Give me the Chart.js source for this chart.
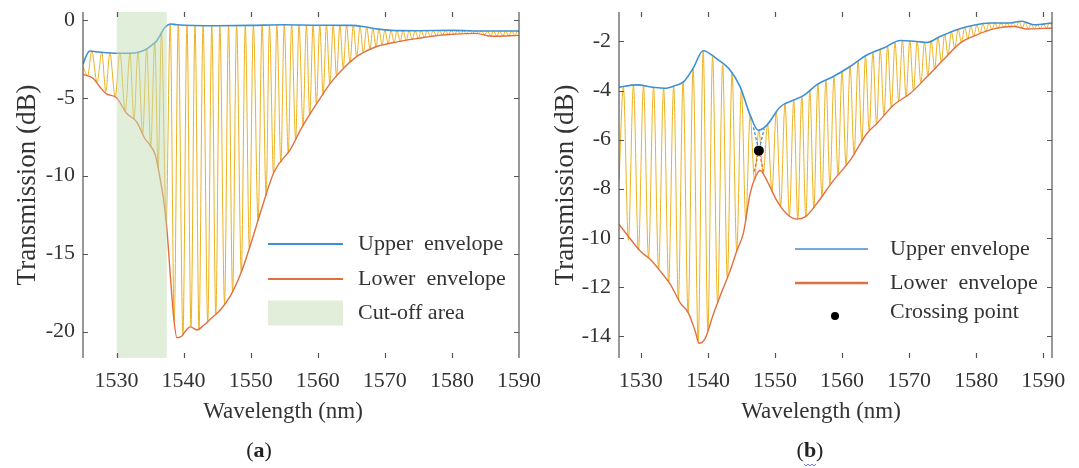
<!DOCTYPE html>
<html>
<head>
<meta charset="utf-8">
<script src="https://cdn.jsdelivr.net/npm/chart.js@4.4.1/dist/chart.umd.min.js"></script>
<style>
  html, body { margin: 0; padding: 0; background: #fff; }
  #wrap { position: relative; width: 1079px; height: 468px; }
  canvas { position: absolute; top: 0; }
  #chartA { left: 0; }
  #chartB { left: 540px; }
</style>
</head>
<body>
<div id="wrap">
  <canvas id="chartA" width="540" height="468"></canvas>
  <canvas id="chartB" width="539" height="468"></canvas>
</div>
<script>
// ---------- panel (a) ----------
const xTicksA = [1530, 1540, 1550, 1560, 1570, 1580, 1590];
const yTicksA = [0, -5, -10, -15, -20];
const cutoffA = [1530, 1537.5];

const wlUpperA = [1525, 1525.5, 1526, 1527, 1528, 1530, 1532, 1533.5, 1534.5, 1535.5, 1536, 1536.5, 1537,
  1537.5, 1538, 1539, 1545, 1550, 1555, 1560, 1565, 1567, 1569, 1571, 1575, 1580, 1585, 1590];
const upperA = [-2.85, -2.3, -2.0, -2.05, -2.1, -2.15, -2.15, -2.05, -1.87, -1.55, -1.34, -1.0, -0.6,
  -0.38, -0.27, -0.32, -0.38, -0.36, -0.32, -0.35, -0.36, -0.45, -0.6, -0.68, -0.7, -0.68, -0.72, -0.72];

const wlLowerA = [1525, 1526.5, 1527.5, 1528.5, 1530, 1531.5, 1533, 1534.2, 1535, 1535.8, 1536.5, 1537, 1537.5,
  1538, 1538.5, 1539, 1539.7, 1540.5, 1541, 1542, 1543, 1544, 1545.5, 1547, 1548.5, 1550, 1551.5, 1553.5,
  1556, 1557.5, 1560, 1562, 1564, 1566, 1568.5, 1572, 1575, 1578.5, 1583.5, 1586, 1590];
const lowerA = [-3.5, -3.75, -4.3, -4.75, -5.0, -6.0, -6.55, -7.6, -8.05, -8.7, -10.2, -11.5, -13.4,
  -16.3, -19.0, -20.4, -20.3, -19.85, -19.7, -19.9, -19.6, -19.2, -18.6, -17.7, -16.3, -14.4, -12.3, -9.75,
  -8.26, -7.0, -5.27, -4.0, -3.04, -2.3, -1.76, -1.4, -1.19, -0.98, -0.87, -1.06, -1.0];

// fringe turning points (dip, peak, dip, peak ...)
const wlFringeA = [1525.0,
  1525.7, 1526.3, 1527.1, 1527.8, 1528.4, 1529.0, 1529.8, 1530.5, 1531.3, 1532.0,
  1532.6, 1533.2, 1533.9, 1534.5, 1535.1, 1535.7, 1536.2, 1536.7, 1537.4, 1538.0,
  1538.6, 1539.2, 1539.9, 1540.5, 1541.1, 1541.7, 1542.3, 1542.9, 1543.6, 1544.2,
  1544.8, 1545.4, 1546.1, 1546.7, 1547.3, 1547.9, 1548.6, 1549.2, 1549.8, 1550.4,
  1551.1, 1551.7, 1552.3, 1552.8, 1553.4, 1553.9, 1554.5, 1555.0, 1555.6, 1556.1,
  1556.7, 1557.2, 1557.8, 1558.3, 1558.8, 1559.3, 1559.8, 1560.3, 1560.8, 1561.3,
  1561.8, 1562.3, 1562.8, 1563.3, 1563.8, 1564.3, 1564.8, 1565.3, 1565.8, 1566.3,
  1566.8, 1567.3, 1567.8, 1568.2, 1568.7, 1569.1, 1569.6, 1570.0, 1570.5, 1570.9,
  1571.4, 1571.8, 1572.3, 1572.7, 1573.2, 1573.6, 1574.1, 1574.5, 1575.0, 1575.4,
  1575.9, 1576.3, 1576.8, 1577.2, 1577.7, 1578.1, 1578.6, 1579.0, 1579.5, 1579.9,
  1580.4, 1580.8, 1581.3, 1581.7, 1582.2, 1582.6, 1583.1, 1583.5, 1584.0, 1584.4,
  1584.9, 1585.3, 1585.8, 1586.2, 1586.7, 1587.1, 1587.6, 1588.0, 1588.5, 1588.9,
  1589.4, 1589.8, 1590.0];
const fringeA = [-3.0,
  -3.6, -2.0, -4.0, -2.1, -4.6, -2.12, -4.95, -2.15, -5.9, -2.15,
  -6.4, -2.07, -7.3, -1.87, -8.1, -1.45, -9.5, -0.85, -13.0, -0.27,
  -19.3, -0.32, -20.2, -0.34, -19.7, -0.35, -19.85, -0.36, -19.4, -0.37,
  -18.9, -0.38, -18.2, -0.37, -17.5, -0.37, -16.2, -0.36, -14.7, -0.36,
  -12.9, -0.35, -11.3, -0.34, -9.85, -0.33, -9.15, -0.32, -8.5, -0.32,
  -7.7, -0.33, -6.8, -0.34, -6.1, -0.34, -5.4, -0.35, -4.8, -0.35,
  -4.1, -0.35, -3.6, -0.35, -3.1, -0.35, -2.75, -0.37, -2.38, -0.42,
  -2.1, -0.48, -1.9, -0.54, -1.74, -0.6, -1.63, -0.65, -1.54, -0.68,
  -1.45, -0.7, -1.38, -0.7, -1.31, -0.7, -1.25, -0.7, -1.19, -0.7,
  -1.13, -0.69, -1.08, -0.69, -1.03, -0.68, -0.98, -0.68, -0.96, -0.68,
  -0.94, -0.68, -0.92, -0.69, -0.9, -0.7, -0.88, -0.7, -0.88, -0.71,
  -0.95, -0.72, -1.04, -0.72, -1.06, -0.72, -1.04, -0.72, -1.02, -0.72,
  -1.0, -0.72, -0.8];

// ---------- panel (b) ----------
const xTicksB = [1530, 1540, 1550, 1560, 1570, 1580, 1590];
const yTicksB = [-2, -4, -6, -8, -10, -12, -14];
const crossingB = [1547.6, -6.45];

const wlUpperB = [1526.75, 1529.4, 1531.9, 1533.6, 1535.1, 1536.4, 1537.8, 1539.3, 1541.3, 1543.3, 1544.8,
  1546.3, 1547.5, 1548.8, 1550.8, 1552.8, 1554.3, 1556.2, 1558.7, 1561.2, 1563.7, 1566.2, 1568.7, 1571.2,
  1572.7, 1574.6, 1577.1, 1579.6, 1582.1, 1584.6, 1586.8, 1588.6, 1591.3];
const upperB = [-3.87, -3.77, -3.87, -3.91, -3.8, -3.64, -3.09, -2.38, -2.7, -3.16, -3.84,
  -5.0, -5.62, -5.41, -4.66, -4.39, -4.2, -3.77, -3.43, -3.02, -2.55, -2.27, -1.96, -2.0,
  -2.04, -1.8, -1.52, -1.34, -1.25, -1.25, -1.18, -1.32, -1.25];

const wlLowerB = [1526.75, 1528.3, 1529.9, 1531.4, 1532.9, 1534.4, 1535.9, 1537.1, 1538.1, 1538.7, 1539.6,
  1540.8, 1542.1, 1543.3, 1544.3, 1545.3, 1546.3, 1547.3, 1547.8, 1548.8, 1550.3, 1551.8, 1553.3, 1554.5,
  1556.2, 1558.7, 1561.2, 1563.7, 1565.2, 1567.7, 1570.2, 1572.7, 1575.1, 1577.6, 1580.1, 1582.6, 1585.6,
  1587.6, 1591.3];
const lowerB = [-9.45, -10.0, -10.54, -10.88, -11.36, -11.9, -12.66, -13.07, -13.8, -14.3, -14.1,
  -13.13, -12.18, -11.36, -10.54, -9.8, -8.2, -7.4, -7.26, -7.67, -8.5, -9.04, -9.24, -9.15,
  -8.62, -7.67, -6.85, -5.75, -5.34, -4.59, -4.11, -3.43, -2.75, -2.07, -1.73, -1.49, -1.39,
  -1.49, -1.45];

// dashed continuations of the envelopes around the crossing point
const wlDashUpperB = [1546.8, 1547.6, 1548.4];
const dashUpperB = [-5.5, -6.45, -5.55];
const wlDashLowerB = [1546.9, 1547.6, 1548.3];
const dashLowerB = [-7.3, -6.45, -7.3];

// fringe turning points (peak, dip, peak, dip ...)
const wlFringeB = [1526.75,
  1527.4, 1528.15, 1528.9, 1529.65, 1530.4, 1531.15, 1531.9, 1532.65, 1533.4, 1534.15,
  1534.9, 1535.6, 1536.3, 1537.05, 1537.8, 1538.55, 1539.3, 1540.0, 1540.7, 1541.45,
  1542.2, 1542.9, 1543.6, 1544.3, 1545.0, 1545.65, 1546.3, 1546.95, 1547.6, 1548.25,
  1548.9, 1549.55, 1550.2, 1550.85, 1551.5, 1552.15, 1552.8, 1553.4, 1554.0, 1554.6,
  1555.2, 1555.8, 1556.4, 1557.0, 1557.6, 1558.2, 1558.8, 1559.4, 1560.0, 1560.6,
  1561.2, 1561.8, 1562.4, 1562.95, 1563.5, 1564.05, 1564.6, 1565.15, 1565.7, 1566.25,
  1566.8, 1567.35, 1567.9, 1568.45, 1569.0, 1569.55, 1570.1, 1570.65, 1571.2, 1571.75,
  1572.3, 1572.8, 1573.3, 1573.8, 1574.3, 1574.8, 1575.3, 1575.8, 1576.3, 1576.8,
  1577.3, 1577.8, 1578.3, 1578.75, 1579.2, 1579.65, 1580.1, 1580.55, 1581.0, 1581.45,
  1581.9, 1582.35, 1582.8, 1583.25, 1583.7, 1584.15, 1584.6, 1585.05, 1585.5, 1585.95,
  1586.4, 1586.85, 1587.3, 1587.75, 1588.2, 1588.65, 1589.1, 1589.55, 1590.0, 1590.45,
  1590.9, 1591.3];
const fringeB = [-7.7,
  -3.85, -10.1, -3.78, -10.5, -3.8, -10.82, -3.87, -11.28, -3.9, -11.8,
  -3.82, -12.5, -3.65, -13.05, -3.09, -14.2, -2.4, -13.8, -2.62, -12.65,
  -2.95, -11.65, -3.3, -10.54, -3.95, -9.3, -5.0, -7.65, -5.62, -7.4,
  -5.38, -8.1, -4.85, -8.7, -4.52, -9.1, -4.39, -9.24, -4.22, -9.15,
  -4.0, -8.8, -3.74, -8.3, -3.57, -7.85, -3.42, -7.43, -3.22, -7.05,
  -3.02, -6.6, -2.8, -6.08, -2.6, -5.65, -2.45, -5.35, -2.32, -5.02,
  -2.2, -4.69, -2.05, -4.44, -1.96, -4.25, -1.97, -3.99, -2.0, -3.69,
  -2.03, -3.4, -1.95, -3.12, -1.83, -2.83, -1.7, -2.55, -1.6, -2.29,
  -1.5, -2.03, -1.43, -1.9, -1.36, -1.78, -1.32, -1.68, -1.29, -1.6,
  -1.26, -1.51, -1.25, -1.46, -1.25, -1.42, -1.25, -1.4, -1.22, -1.4,
  -1.19, -1.45, -1.22, -1.49, -1.3, -1.48, -1.3, -1.47, -1.27, -1.46,
  -1.25, -1.35];

// ---------- styling ----------
const FONT = '"Liberation Serif", "Times New Roman", serif';
const TEXT = '#333';
const BLUE = '#3E90D4';
const ORANGE = '#E2703F';
const YELLOW = '#EDB120';
const GREEN = '#E2EED9';

function series(wl, vals, color, width, extra) {
  return Object.assign({
    data: wl.map((x, i) => ({ x, y: vals[i] })),
    showLine: true,
    borderColor: color,
    borderWidth: width,
    pointRadius: 0,
    fill: false,
    cubicInterpolationMode: 'monotone'
  }, extra || {});
}

// axis frame with inward ticks, x title, legend and panel label
function decor(cfg) {
  return {
    id: 'decor',
    afterDraw(chart) {
      const { ctx, chartArea: ca, scales: { x, y } } = chart;
      ctx.save();
      ctx.strokeStyle = '#555';
      ctx.lineWidth = 1.2;
      ctx.beginPath();
      ctx.moveTo(ca.left, ca.top); ctx.lineTo(ca.left, ca.bottom);
      ctx.moveTo(ca.right, ca.top); ctx.lineTo(ca.right, ca.bottom);
      x.ticks.forEach(t => {
        const px = Math.round(x.getPixelForValue(t.value)) + 0.5;
        if (px > ca.right - 2) return;
        ctx.moveTo(px, ca.bottom); ctx.lineTo(px, ca.bottom - 5);
        ctx.moveTo(px, ca.top); ctx.lineTo(px, ca.top + 5);
      });
      y.ticks.forEach(t => {
        const py = Math.round(y.getPixelForValue(t.value)) + 0.5;
        ctx.moveTo(ca.left, py); ctx.lineTo(ca.left + 5, py);
        ctx.moveTo(ca.right, py); ctx.lineTo(ca.right - 5, py);
      });
      ctx.stroke();

      ctx.fillStyle = TEXT;
      ctx.textBaseline = 'middle';
      ctx.textAlign = 'center';
      ctx.font = `23px ${FONT}`;
      ctx.fillText('Wavelength (nm)', cfg.xTitleX, 412);

      // legend
      const lg = cfg.legend;
      lg.items.forEach(it => {
        if (it.kind === 'line') {
          ctx.strokeStyle = it.color;
          ctx.lineWidth = it.width;
          ctx.beginPath();
          ctx.moveTo(lg.x0, it.y); ctx.lineTo(lg.x1, it.y);
          ctx.stroke();
        } else if (it.kind === 'box') {
          ctx.fillStyle = it.color;
          ctx.fillRect(lg.x0, it.y - it.h / 2, lg.x1 - lg.x0, it.h);
        } else if (it.kind === 'dot') {
          ctx.fillStyle = it.color;
          ctx.beginPath();
          ctx.arc(it.cx, it.y, it.r, 0, Math.PI * 2);
          ctx.fill();
        }
        ctx.fillStyle = TEXT;
        ctx.textAlign = 'left';
        ctx.font = `22px ${FONT}`;
        ctx.fillText(it.text, lg.textX, it.textY || it.y);
      });

      // panel label "(a)" with bold letter
      const parts = [['(', ''], [cfg.label, 'bold '], [')', '']];
      let w = 0;
      parts.forEach(p => { ctx.font = `${p[1]}22px ${FONT}`; w += ctx.measureText(p[0]).width; });
      let cx = cfg.labelX - w / 2;
      ctx.textAlign = 'left';
      ctx.fillStyle = '#222';
      parts.forEach((p, i) => {
        ctx.font = `${p[1]}22px ${FONT}`;
        const pw = ctx.measureText(p[0]).width;
        ctx.fillText(p[0], cx, 451);
        if (i === 1 && cfg.squiggle) {
          ctx.strokeStyle = '#5A6FE0';
          ctx.lineWidth = 1;
          ctx.beginPath();
          for (let k = 0; k <= pw; k += 2) {
            ctx.lineTo(cx + k, 464 + (k % 4 === 0 ? 0 : 2));
          }
          ctx.stroke();
        }
        cx += pw;
      });
      ctx.restore();
    }
  };
}

function axes(opt) {
  return {
    x: {
      type: 'linear',
      min: opt.xMin, max: opt.xMax,
      afterFit: s => { s.height = 110; s.paddingLeft = 0; s.paddingRight = 0; },
      afterBuildTicks: s => { s.ticks = opt.xTicks.map(v => ({ value: v })); },
      grid: { display: false, drawTicks: false },
      border: { display: false },
      ticks: { font: { family: FONT, size: 22 }, color: TEXT, padding: 10, maxRotation: 0, callback: v => String(v) }
    },
    y: {
      type: 'linear',
      min: opt.yMin, max: opt.yMax,
      afterFit: s => { s.width = opt.yWidth; s.paddingTop = 0; s.paddingBottom = 0; },
      afterBuildTicks: s => { s.ticks = opt.yTicks.map(v => ({ value: v })); },
      grid: { display: false, drawTicks: false },
      border: { display: false },
      ticks: { font: { family: FONT, size: 22 }, color: TEXT, padding: 8, callback: v => String(v) },
      title: {
        display: true, text: 'Transmission (dB)', color: TEXT,
        font: { family: FONT, size: 27 }, padding: { top: opt.titlePad, bottom: 0 }
      }
    }
  };
}

const common = {
  responsive: false,
  animation: false,
  devicePixelRatio: 1,
  events: [],
  plugins: { legend: { display: false }, tooltip: { enabled: false } }
};

const yMaxA = 0.5, yMinA = -21.7;

new Chart(document.getElementById('chartA'), {
  type: 'scatter',
  data: {
    datasets: [
      {
        data: cutoffA.map(x => ({ x, y: yMaxA })),
        showLine: true, borderWidth: 0, pointRadius: 0,
        fill: 'start', backgroundColor: 'rgba(196, 222, 180, 0.5)'
      },
      series(wlUpperA, upperA, BLUE, 1.6),
      series(wlLowerA, lowerA, ORANGE, 1.4),
      series(wlFringeA, fringeA, YELLOW, 1)
    ]
  },
  options: Object.assign({}, common, {
    layout: { padding: { top: 12, right: 21, left: 0, bottom: 0 } },
    scales: axes({ xMin: 1525, xMax: 1590, yMin: yMinA, yMax: yMaxA, xTicks: xTicksA, yTicks: yTicksA, yWidth: 83, titlePad: 12 })
  }),
  plugins: [decor({
    xTitleX: 283, label: 'a', labelX: 259,
    legend: {
      x0: 268, x1: 343, textX: 358,
      items: [
        { kind: 'line', color: BLUE, width: 2, y: 244, text: 'Upper  envelope' },
        { kind: 'line', color: ORANGE, width: 2, y: 279, text: 'Lower  envelope' },
        { kind: 'box', color: GREEN, y: 313, h: 25, text: 'Cut-off area' }
      ]
    }
  })]
});

new Chart(document.getElementById('chartB'), {
  type: 'scatter',
  data: {
    datasets: [
      { data: [{ x: crossingB[0], y: crossingB[1] }], pointRadius: 5, backgroundColor: '#000', borderWidth: 0, showLine: false },
      series(wlDashUpperB, dashUpperB, BLUE, 1.3, { borderDash: [3, 2], cubicInterpolationMode: 'default', tension: 0 }),
      series(wlDashLowerB, dashLowerB, ORANGE, 1.3, { borderDash: [3, 2], cubicInterpolationMode: 'default', tension: 0 }),
      series(wlUpperB, upperB, BLUE, 1.6),
      series(wlLowerB, lowerB, ORANGE, 1.4),
      series(wlFringeB, fringeB, YELLOW, 1)
    ]
  },
  options: Object.assign({}, common, {
    layout: { padding: { top: 12, right: 27, left: 0, bottom: 0 } },
    scales: axes({ xMin: 1526.75, xMax: 1591.3, yMin: -14.9, yMax: -0.8, xTicks: xTicksB, yTicks: yTicksB, yWidth: 79, titlePad: 10 })
  }),
  plugins: [decor({
    xTitleX: 281, label: 'b', labelX: 270, squiggle: true,
    legend: {
      x0: 255, x1: 328, textX: 350,
      items: [
        { kind: 'line', color: BLUE, width: 1.5, y: 249, text: 'Upper envelope' },
        { kind: 'line', color: ORANGE, width: 2.5, y: 283, text: 'Lower  envelope' },
        { kind: 'dot', color: '#000', r: 4, cx: 295, y: 316, textY: 312, text: 'Crossing point' }
      ]
    }
  })]
});
</script>
</body>
</html>
